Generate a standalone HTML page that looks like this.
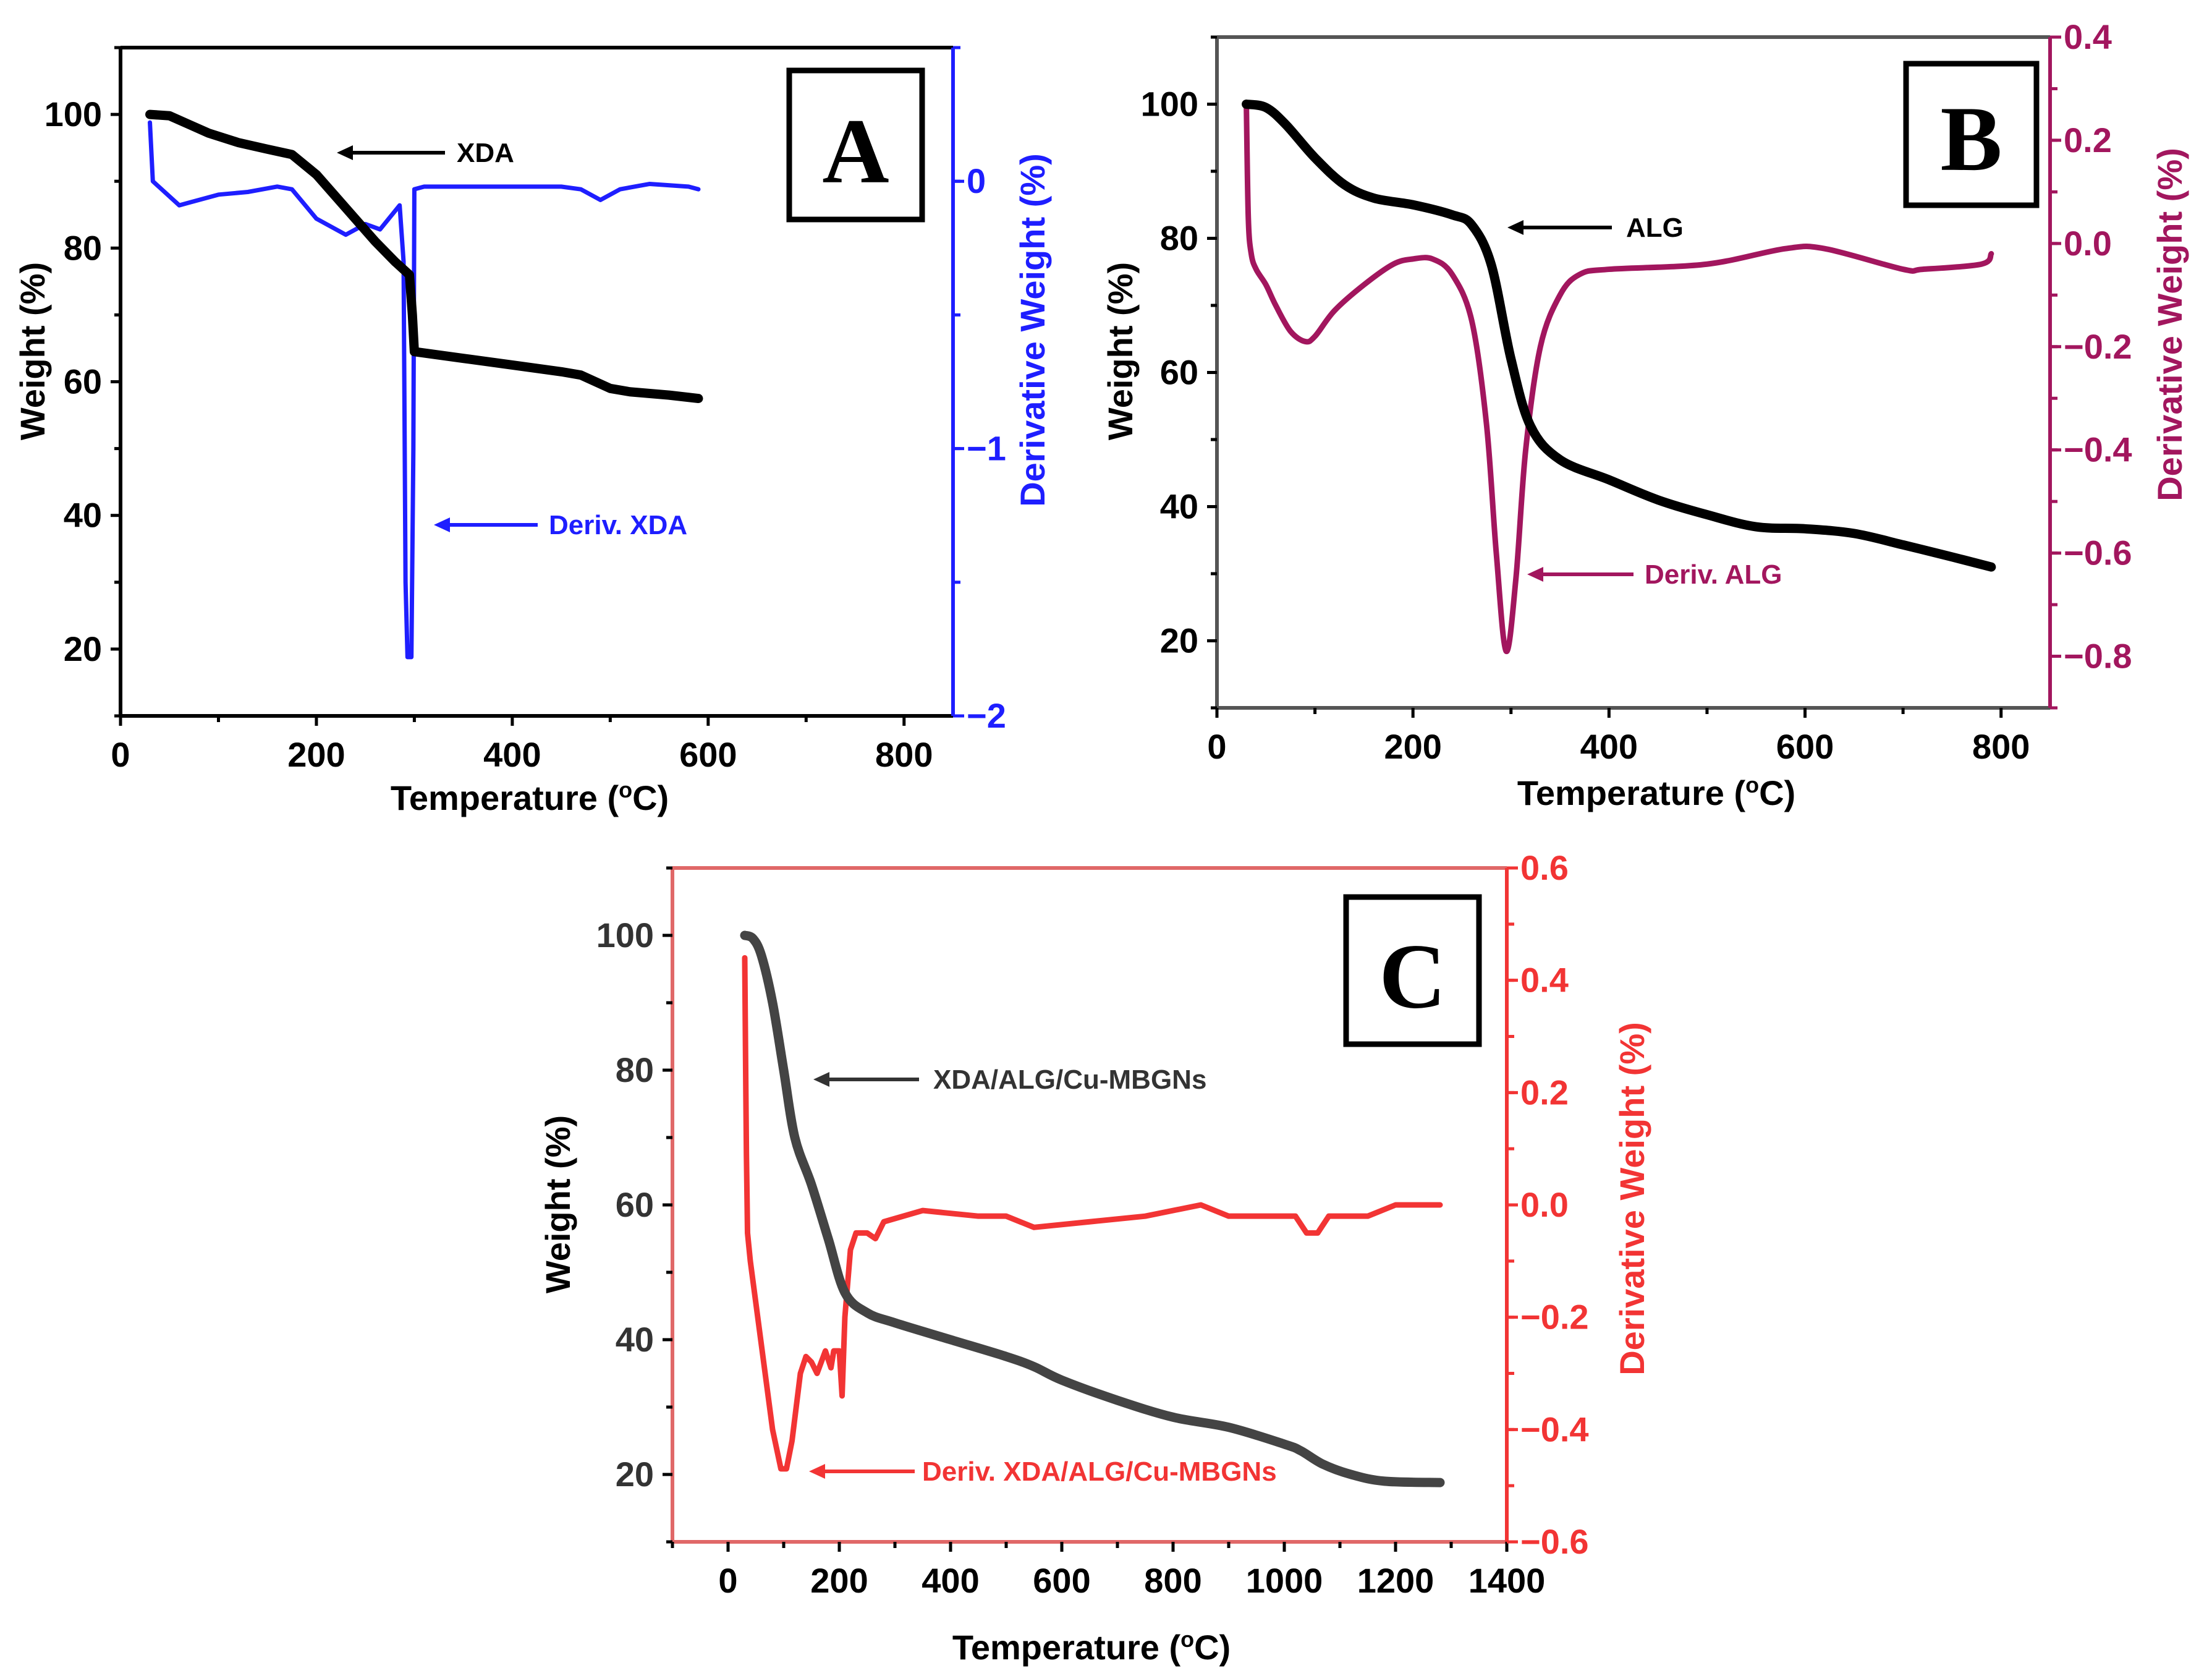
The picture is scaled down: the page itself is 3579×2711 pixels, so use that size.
<!DOCTYPE html>
<html><head><meta charset="utf-8"><style>
html,body{margin:0;padding:0;background:#fff;}
svg{display:block;}
text{font-family:"Liberation Sans Narrow","Liberation Sans",sans-serif;font-weight:bold;}
</style></head><body>
<svg id="fig" width="3579" height="2711" viewBox="0 0 3579 2711" xmlns="http://www.w3.org/2000/svg"></svg>
<script>
// Panel A data
const aTemp = [30,50,70,90,120,150,175,200,230,260,280,295,298,300,350,400,450,470,500,520,560,590];
const aWeight = [100,99.8,98.5,97.2,95.8,94.8,94,91,86,81,78,76,70,64.5,63.5,62.5,61.5,61,59,58.5,58,57.5];
const aDTemp = [30,33,60,70,100,130,160,175,200,230,250,265,285,289,291,293,297,299,300,310,450,470,490,510,540,580,590];
const aDeriv = [0.22,0.0,-0.09,-0.08,-0.05,-0.04,-0.02,-0.03,-0.14,-0.2,-0.16,-0.18,-0.09,-0.3,-1.5,-1.78,-1.78,-1.0,-0.03,-0.02,-0.02,-0.03,-0.07,-0.03,-0.01,-0.02,-0.03];
// Panel B data
const bTemp = [30,50,70,100,130,160,200,240,260,280,300,320,350,400,450,500,550,600,650,700,750,790];
const bWeight = [100,99.5,97,92,88,86,85,83.5,82,76,62,52,47,44,41,38.8,37,36.7,36,34.3,32.5,31];
const bDTemp = [30,32,35,40,50,60,75,90,100,120,150,180,200,220,240,260,275,285,295,305,315,330,350,370,400,500,580,620,700,720,780,790];
const bDeriv = [0.27,0.05,-0.02,-0.05,-0.08,-0.12,-0.17,-0.19,-0.18,-0.13,-0.08,-0.04,-0.03,-0.03,-0.06,-0.15,-0.35,-0.6,-0.79,-0.65,-0.4,-0.2,-0.1,-0.06,-0.05,-0.04,-0.01,-0.01,-0.05,-0.05,-0.04,-0.02];
// Panel C data
const cTemp = [30,45,60,80,100,120,150,180,210,250,300,400,500,550,600,700,800,900,1000,1030,1070,1120,1180,1280];
const cWeight = [100,99.5,97,90,80,70,63,55,47,44,42.5,40,37.5,36,34,31,28.5,27,24.5,23.5,21.5,20,19,18.8];
const cDTemp = [30,32,33,35,40,60,80,95,105,115,130,140,150,160,175,185,190,200,205,210,220,230,250,265,280,350,450,500,550,650,750,850,900,1000,1020,1040,1060,1080,1150,1200,1280];
const cDeriv = [0.44,0.2,0.09,-0.05,-0.1,-0.25,-0.4,-0.47,-0.47,-0.42,-0.3,-0.27,-0.28,-0.3,-0.26,-0.29,-0.26,-0.26,-0.34,-0.2,-0.08,-0.05,-0.05,-0.06,-0.03,-0.01,-0.02,-0.02,-0.04,-0.03,-0.02,0.0,-0.02,-0.02,-0.02,-0.05,-0.05,-0.02,-0.02,0.0,0.0];
const xTicksAB = [0,200,400,600,800];
const xTicksC = [0,200,400,600,800,1000,1200,1400];
const yTicks = [20,40,60,80,100];
const rTicksA = [0,-1,-2];
const rTicksB = [0.4,0.2,0.0,-0.2,-0.4,-0.6,-0.8];
const rTicksC = [0.6,0.4,0.2,0.0,-0.2,-0.4,-0.6];
const rLabelsA = ['0','\u22121','\u22122'];
const rLabelsB = ['0.4','0.2','0.0','\u22120.2','\u22120.4','\u22120.6','\u22120.8'];
const rLabelsC = ['0.6','0.4','0.2','0.0','\u22120.2','\u22120.4','\u22120.6'];

const NS='http://www.w3.org/2000/svg';
const svg=document.getElementById('fig');
function mk(tag,attrs,parent,txt){const e=document.createElementNS(NS,tag);for(const k in attrs)e.setAttribute(k,attrs[k]);if(txt!==undefined)e.textContent=txt;(parent||svg).appendChild(e);return e;}
function pathD(pts,smooth){
  if(!smooth) return 'M'+pts.map(p=>p[0]+','+p[1]).join(' L');
  let d='M'+pts[0][0]+','+pts[0][1];
  for(let i=0;i<pts.length-1;i++){
    const p0=pts[Math.max(0,i-1)],p1=pts[i],p2=pts[i+1],p3=pts[Math.min(pts.length-1,i+2)];
    const k=1/6;
    const c1=[p1[0]+(p2[0]-p0[0])*k,p1[1]+(p2[1]-p0[1])*k];
    const c2=[p2[0]-(p3[0]-p1[0])*k,p2[1]-(p3[1]-p1[1])*k];
    d+=` C${c1[0]},${c1[1]} ${c2[0]},${c2[1]} ${p2[0]},${p2[1]}`;
  }
  return d;
}

function panel(cfg){
  const g=mk('g',{});
  
  
  const X=v=>cfg.L+(v-cfg.x0)/(cfg.x1-cfg.x0)*(cfg.R-cfg.L);
  const Y=v=>cfg.B-(v-10)/100*(cfg.B-cfg.T);
  const Y2=v=>cfg.B-(v-cfg.r0)/(cfg.r1-cfg.r0)*(cfg.B-cfg.T);
  let e=mk('line',{x1:cfg.L,y1:cfg.T,x2:cfg.R,y2:cfg.T,stroke:cfg.frame,'stroke-width':6},g);
  
  e=mk('line',{x1:cfg.L,y1:cfg.T,x2:cfg.L,y2:cfg.B,stroke:cfg.frame,'stroke-width':6},g);
  
  e=mk('line',{x1:cfg.L,y1:cfg.B,x2:cfg.R,y2:cfg.B,stroke:cfg.frame,'stroke-width':6},g);
  
  e=mk('line',{x1:cfg.R,y1:cfg.T,x2:cfg.R,y2:cfg.B,stroke:cfg.rc,'stroke-width':6},g);
  
  for(let v=cfg.x0;v<=cfg.x1;v+=cfg.xminor){
    mk('line',{x1:X(v),y1:cfg.B,x2:X(v),y2:cfg.B+(Math.abs(v%cfg.xmajor)<1e-6?16:10),stroke:'#000','stroke-width':5},g);}
  cfg.xticks.forEach(v=>{e=mk('text',{x:X(v),y:cfg.B+82,'text-anchor':'middle','font-size':56,fill:'#000'},g,String(v));
    });
  for(let v=10;v<=110;v+=10){mk('line',{x1:cfg.L,y1:Y(v),x2:cfg.L-(v%20===0?16:10),y2:Y(v),stroke:'#000','stroke-width':5},g);}
  yTicks.forEach(v=>{e=mk('text',{x:cfg.L-30,y:Y(v)+19,'text-anchor':'end','font-size':56,fill:cfg.lcol},g,String(v));
    });
  for(let v=cfg.r0;v<=cfg.r1+1e-9;v+=cfg.rminor){mk('line',{x1:cfg.R,y1:Y2(v),x2:cfg.R+12,y2:Y2(v),stroke:cfg.rc,'stroke-width':5},g);}
  cfg.rticks.forEach((v,i)=>{mk('line',{x1:cfg.R,y1:Y2(v),x2:cfg.R+18,y2:Y2(v),stroke:cfg.rc,'stroke-width':5},g);
    e=mk('text',{x:cfg.R+22,y:Y2(v)+19,'font-size':56,fill:cfg.rc},g,cfg.rlabels[i]);
    });
  e=mk('text',{x:cfg.xtX,y:cfg.xtY,'text-anchor':'middle','font-size':56,fill:'#000'},g);
  e.innerHTML='Temperature (<tspan dy="-20" font-size="36">o</tspan><tspan dy="20">C)</tspan>';
  
  e=mk('text',{x:0,y:0,transform:`translate(${cfg.ytX},${cfg.ytY}) rotate(-90)`,'text-anchor':'middle','font-size':56,fill:'#000'},g,'Weight (%)');
  
  e=mk('text',{x:0,y:0,transform:`translate(${cfg.rtX},${cfg.rtY}) rotate(-90)`,'text-anchor':'middle','font-size':56,fill:cfg.rc},g,'Derivative Weight (%)');
  
  e=mk('path',{d:pathD(cfg.dT.map((t,i)=>[X(t),Y2(cfg.dV[i])]),cfg.smoothD),fill:'none',stroke:cfg.rc,'stroke-width':cfg.dw,'stroke-linejoin':'round','stroke-linecap':'round'},g);
  
  e=mk('path',{d:pathD(cfg.wT.map((t,i)=>[X(t),Y(cfg.wV[i])]),cfg.smoothW),fill:'none',stroke:cfg.wc,'stroke-width':15,'stroke-linejoin':'round','stroke-linecap':'round'},g);
  
  e=mk('rect',{x:cfg.box[0],y:cfg.box[1],width:cfg.box[2],height:cfg.box[3],fill:'#fff',stroke:'#000','stroke-width':9},g);
  
  e=mk('text',{x:cfg.box[0]+cfg.box[2]/2,y:cfg.box[1]+cfg.box[3]*0.75,'text-anchor':'middle','font-size':150,fill:'#000',style:'font-family:"Liberation Serif",serif'},g,cfg.id);
  
  cfg.ann.forEach(a=>{
    const ag=mk('g',{},g);
    
    mk('line',{x1:a.x1+14,y1:a.y,x2:a.x2,y2:a.y,stroke:a.c,'stroke-width':6},ag);
    mk('polygon',{points:`${a.x1},${a.y} ${a.x1+26},${a.y-12} ${a.x1+26},${a.y+12}`,fill:a.c},ag);
    mk('text',{x:a.tx,y:a.y+15,'font-size':44,fill:a.c},ag,a.t);
  });
}

panel({id:'A',L:195,R:1542,T:77,B:1158,x0:0,x1:850,xmajor:200,xminor:100,xticks:xTicksAB,
  r0:-2,r1:0.5,rminor:0.5,rticks:rTicksA,rlabels:rLabelsA,rc:'#1e1eff',frame:'#000',lcol:'#000',wc:'#000',dw:7,
  wT:aTemp,wV:aWeight,dT:aDTemp,dV:aDeriv,smoothW:false,smoothD:false,
  xtX:857,xtY:1310,ytX:72,ytY:568,rtX:1690,rtY:534,box:[1277,114,215,241],
  ann:[{name:'xda',x1:545,x2:720,y:247,tx:739,t:'XDA',c:'#000'},{name:'deriv-xda',x1:702,x2:870,y:849,tx:888,t:'Deriv. XDA',c:'#1e1eff'}]});
panel({id:'B',L:1969,R:3317,T:60,B:1145,x0:0,x1:850,xmajor:200,xminor:100,xticks:xTicksAB,
  r0:-0.9,r1:0.4,rminor:0.1,rticks:rTicksB,rlabels:rLabelsB,rc:'#a2165e',frame:'#555',lcol:'#000',wc:'#000',dw:9,
  wT:bTemp,wV:bWeight,dT:bDTemp,dV:bDeriv,smoothW:true,smoothD:true,
  xtX:2680,xtY:1302,ytX:1832,ytY:568,rtX:3530,rtY:525,box:[3084,103,211,229],
  ann:[{name:'alg',x1:2439,x2:2608,y:368,tx:2631,t:'ALG',c:'#000'},{name:'deriv-alg',x1:2471,x2:2643,y:929,tx:2661,t:'Deriv. ALG',c:'#a2165e'}]});
panel({id:'C',L:1088,R:2438,T:1404,B:2494,x0:-100,x1:1400,xmajor:200,xminor:100,xticks:xTicksC,
  r0:-0.6,r1:0.6,rminor:0.1,rticks:rTicksC,rlabels:rLabelsC,rc:'#f23434',frame:'#e06868',lcol:'#333',wc:'#444',dw:9,
  wT:cTemp,wV:cWeight,dT:cDTemp,dV:cDeriv,smoothW:true,smoothD:false,
  xtX:1766,xtY:2684,ytX:922,ytY:1948,rtX:2660,rtY:1939,box:[2178,1451,215,238],
  ann:[{name:'composite',x1:1316,x2:1487,y:1746,tx:1510,t:'XDA/ALG/Cu-MBGNs',c:'#333'},{name:'deriv-composite',x1:1309,x2:1480,y:2380,tx:1492,t:'Deriv. XDA/ALG/Cu-MBGNs',c:'#f23434'}]});
</script>
</body></html>
